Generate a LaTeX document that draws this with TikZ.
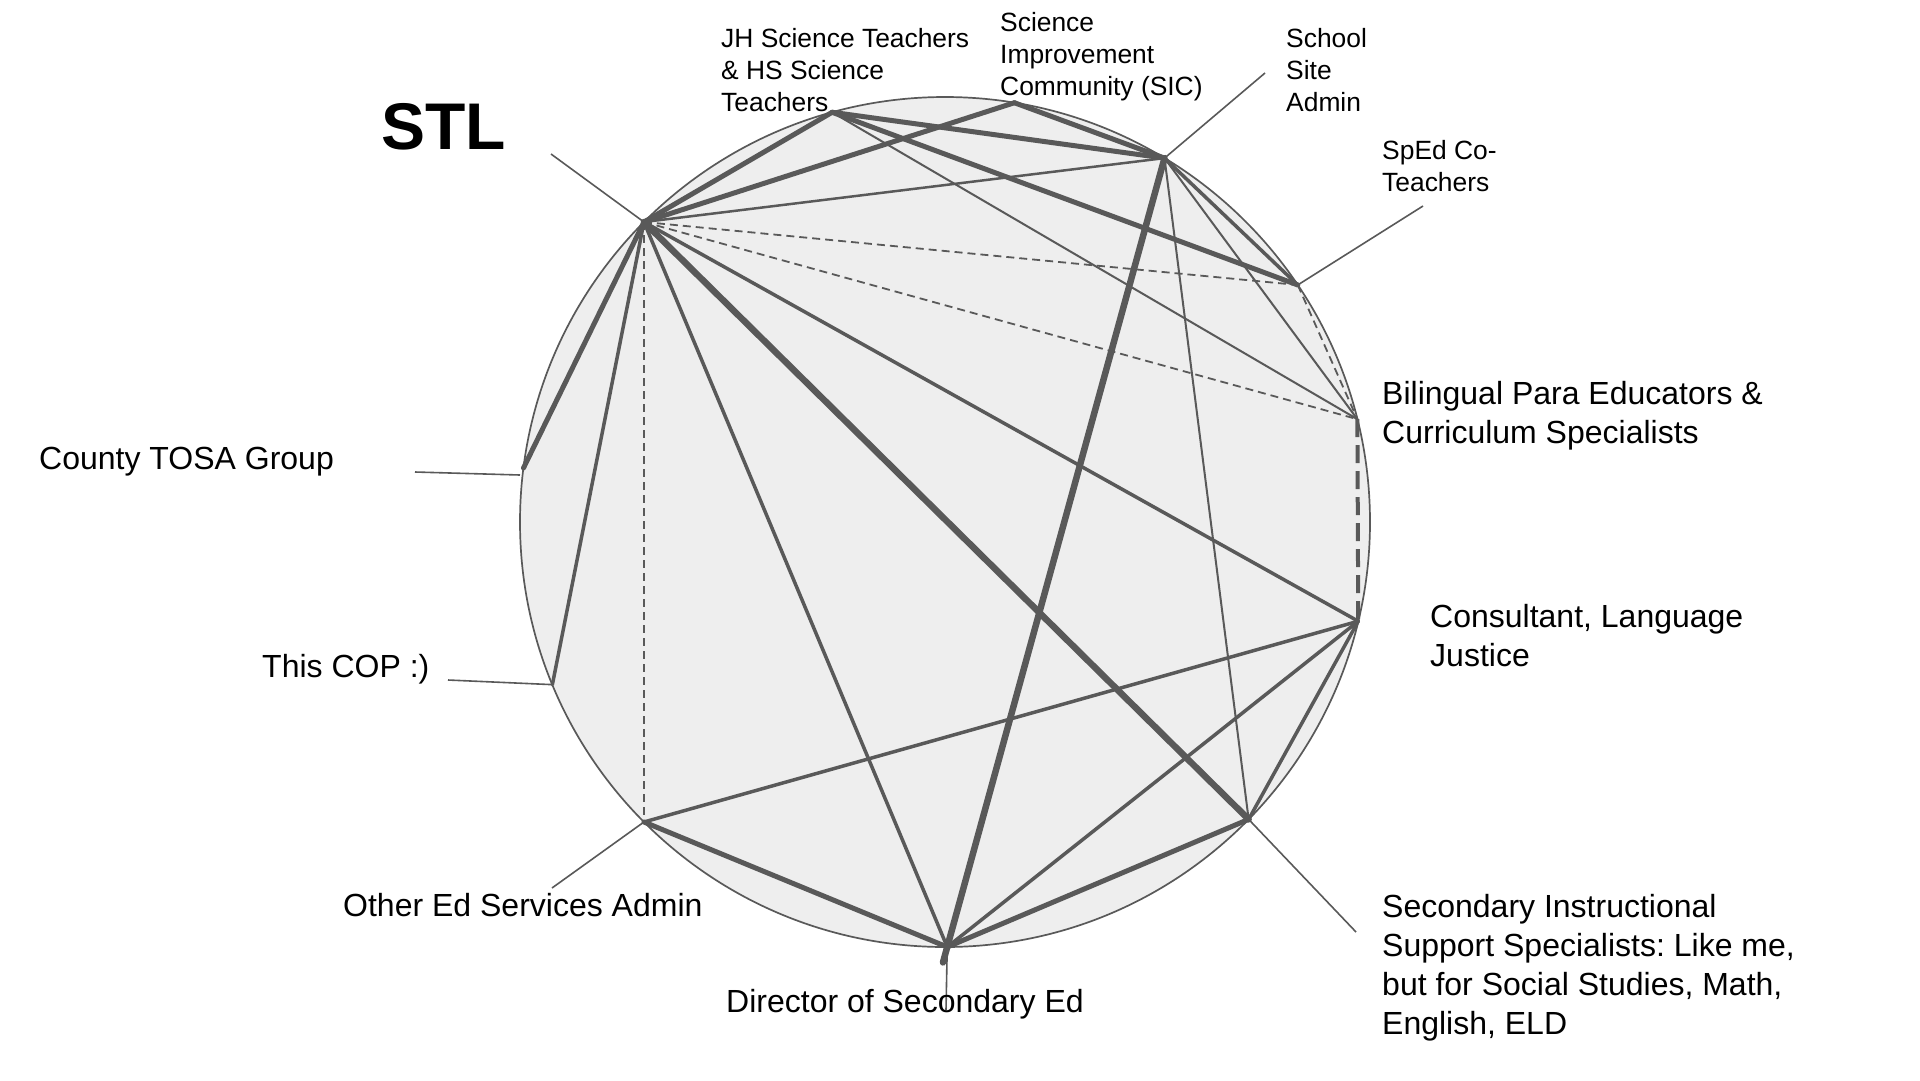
\documentclass[tikz,border=0pt]{standalone}
\usepackage{fontspec}
\setmainfont{Liberation Sans}
\usetikzlibrary{calc}
\definecolor{edgegray}{HTML}{595959}
\definecolor{fillgray}{HTML}{EEEEEE}
\frenchspacing
\begin{document}
\begin{tikzpicture}[x=1pt,y=-1pt,
  edge/.style={draw=edgegray, line cap=round, line join=round},
  w1/.style={edge, line width=2pt},
  w2/.style={edge, line width=2.5pt},
  w3/.style={edge, line width=3.5pt},
  w4/.style={edge, line width=5pt},
  w5/.style={edge, line width=6.5pt},
  dsh/.style={draw=edgegray, line width=1.8pt, dash pattern=on 8pt off 5pt},
  dshthick/.style={draw=edgegray, line width=4pt, dash pattern=on 18pt off 8pt},
  leader/.style={draw=edgegray, line width=1.6pt},
  lbl/.style={anchor=north west, inner sep=0pt, align=left, font=\fontsize{32}{39}\selectfont},
  slbl/.style={anchor=north west, inner sep=0pt, align=left, font=\fontsize{26.4}{32}\selectfont},
]
\useasboundingbox (0,0) rectangle (1920,1080);
\fill[white] (0,0) rectangle (1920,1080);
\coordinate (C) at (945,522);
\draw[fill=fillgray, draw=edgegray, line width=1.7pt] (C) circle (425);

% actors on the circle
\coordinate (stl)  at ($(C)+(-135.1:425)$);
\coordinate (jh)   at ($(C)+(-105.4:425)$);
\coordinate (sic)  at ($(C)+(-80.6:425)$);
\coordinate (ssa)  at ($(C)+(-58.9:425)$);
\coordinate (sped) at ($(C)+(-33.9:425)$);
\coordinate (bil)  at ($(C)+(-14.0:425)$);
\coordinate (cons) at ($(C)+(13.5:425)$);
\coordinate (sec)  at ($(C)+(44.4:425)$);
\coordinate (dir)  at ($(C)+(89.7:425)$);
\coordinate (oth)  at ($(C)+(135.1:425)$);
\coordinate (cop)  at ($(C)+(157.5:425)$);
\coordinate (tosa) at ($(C)+(-172.7:425)$);

% ties
\draw[w4] (stl) -- (jh);
\draw[w4] (stl) -- (sic);
\draw[w2] (stl) -- (ssa);
\draw[dsh] (stl) -- (sped);
\draw[dsh] (stl) -- (bil);
\draw[w4] (stl) -- (tosa);
\draw[w3] (stl) -- (cop);
\draw[dsh] (stl) -- (oth);
\draw[w3] (stl) -- (dir);
\draw[w5] (stl) -- (sec);
\draw[w3] (stl) -- (cons);
\draw[w4] (jh) -- (ssa);
\draw[w4] (jh) -- (sped);
\draw[w1] (jh) -- (bil);
\draw[w4] (sic) -- (ssa);
\draw[w5, shorten >=-16pt] (ssa) -- (dir);
\draw[w3] (ssa) -- (sped);
\draw[w1] (ssa) -- (bil);
\draw[w1] (ssa) -- (sec);
\draw[dsh] (sped) -- (bil);
\draw[dshthick] (bil) -- (cons);
\draw[w3] (cons) -- (oth);
\draw[w3] (cons) -- (dir);
\draw[w3] (cons) -- (sec);
\draw[w4] (sec) -- (dir);
\draw[w4] (oth) -- (dir);

% leader ends
\coordinate (stlL)  at (551,154);
\coordinate (ssaL)  at (1265,73);
\coordinate (spedL) at (1423,206);
\coordinate (secL)  at (1356,932);
\coordinate (dirL)  at (946,1010);
\coordinate (othL)  at (552,888);
\coordinate (copL)  at (448,680);
\coordinate (tosaL) at (415,472);
\coordinate (tosaE) at (520,475);

\draw[leader] (stl) -- (stlL);
\draw[leader] (ssa) -- (ssaL);
\draw[leader] (sped) -- (spedL);
\draw[leader] (sec) -- (secL);
\draw[leader] (dir) -- (dirL);
\draw[leader] (oth) -- (othL);
\draw[leader] (cop) -- (copL);
\draw[leader] (tosaL) -- (tosaE);

% labels
\node[anchor=north west, inner sep=0pt, font=\fontsize{66}{80}\selectfont\bfseries] (tSTL) at (381,93) {\strut STL};
\node[slbl] (tJH) at (721,25) {\strut JH Science Teachers\\\& HS Science\\Teachers};
\node[slbl] (tSIC) at (1000,9) {\strut Science\\Improvement\\Community (SIC)};
\node[slbl] (tSSA) at (1286,25) {\strut School\\Site\\Admin};
\node[slbl] (tSPED) at (1382,137) {\strut SpEd Co-\\Teachers};
\node[lbl] (tBIL) at (1382,377) {\strut Bilingual Para Educators \&\\Curriculum Specialists};
\node[lbl] (tCONS) at (1430,600) {\strut Consultant, Language\\Justice};
\node[lbl] (tSEC) at (1382,890) {\strut Secondary Instructional\\Support Specialists: Like me,\\but for Social Studies, Math,\\English, ELD};
\node[lbl] (tDIR) at (726,985) {\strut Director of Secondary Ed};
\node[lbl] (tOTH) at (343,889) {\strut Other Ed Services Admin};
\node[lbl] (tCOP) at (262,650) {\strut This COP :)};
\node[lbl] (tTOSA) at (39,442) {\strut County TOSA Group};
\end{tikzpicture}
\end{document}
